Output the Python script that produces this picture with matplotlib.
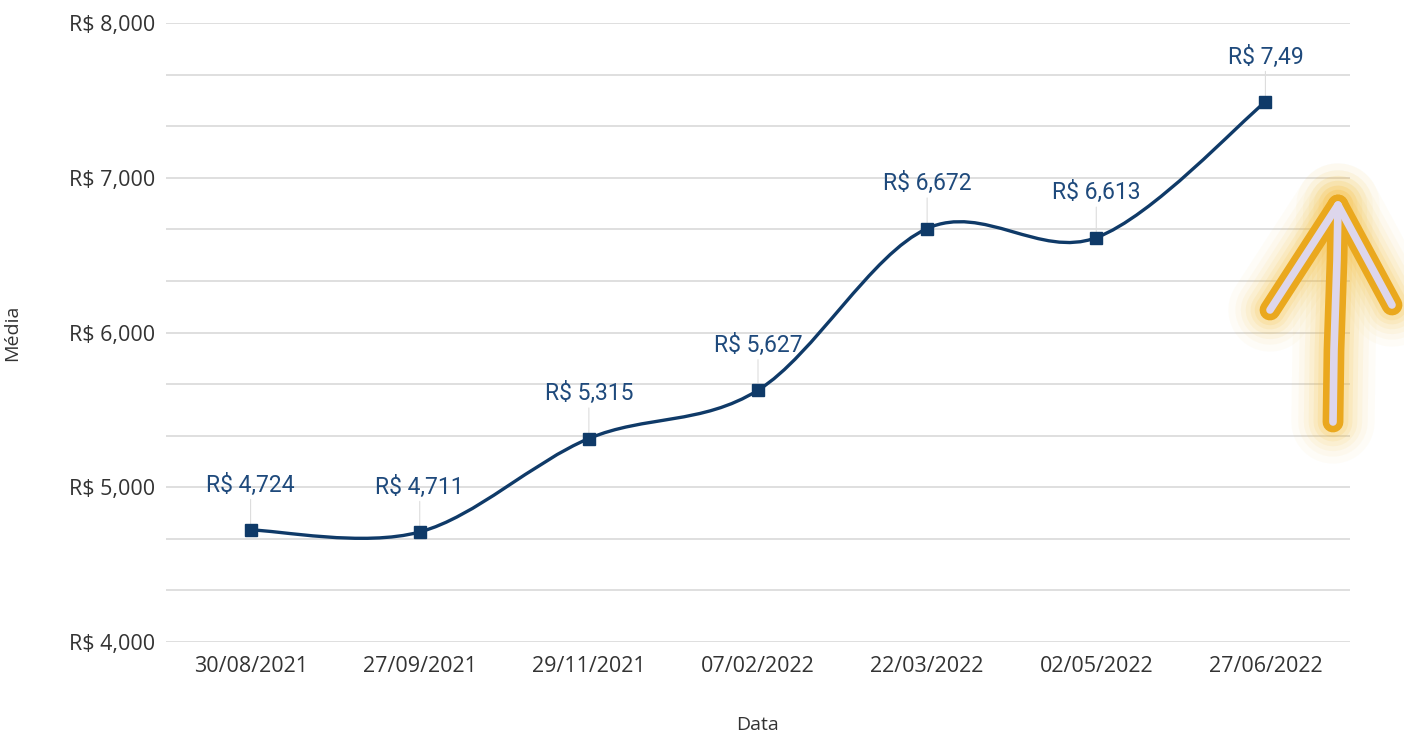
import matplotlib
matplotlib.use("Agg")
import matplotlib.pyplot as plt
from matplotlib.path import Path
from matplotlib.patches import PathPatch
from matplotlib.ticker import MultipleLocator, FuncFormatter
import numpy as np

datas = ["30/08/2021", "27/09/2021", "29/11/2021", "07/02/2022",
         "22/03/2022", "02/05/2022", "27/06/2022"]
medias = [4724, 4711, 5315, 5627, 6672, 6613, 7490]
rotulos = ["R$ 4,724", "R$ 4,711", "R$ 5,315", "R$ 5,627",
           "R$ 6,672", "R$ 6,613", "R$ 7,49"]

azul = "#0f3a68"
fig = plt.figure(figsize=(14.04, 7.36), dpi=100)
ax = fig.add_axes([166/1404, 1-642/736, 1184/1404, 619/736])

x = np.arange(len(datas))
y = np.array(medias, dtype=float)

# smooth curve (catmull-rom as bezier segments)
verts = [(x[0], y[0])]
codes = [Path.MOVETO]
n = len(x)
for i in range(n - 1):
    p0 = np.array([x[max(i-1, 0)], y[max(i-1, 0)]])
    p1 = np.array([x[i], y[i]])
    p2 = np.array([x[i+1], y[i+1]])
    p3 = np.array([x[min(i+2, n-1)], y[min(i+2, n-1)]])
    c1 = p1 + (p2 - p0) / 6
    c2 = p2 - (p3 - p1) / 6
    verts += [tuple(c1), tuple(c2), tuple(p2)]
    codes += [Path.CURVE4] * 3
ax.add_patch(PathPatch(Path(verts, codes), facecolor="none", edgecolor=azul,
                       lw=2.4, zorder=3, capstyle="round"))
ax.plot(x, y, ls="none", marker="s", ms=8, color=azul, zorder=4)

for xi, yi, t in zip(x, y, rotulos):
    ax.annotate(t, (xi, yi), xytext=(0, 24), textcoords="offset points",
                ha="center", va="bottom", fontsize=16.5, color="#1f4a7c",
                family="Roboto",
                arrowprops=dict(arrowstyle="-", color="#dddddd", lw=0.8,
                                shrinkA=0, shrinkB=4))

ax.set_xlim(-0.5, 6.5)
ax.set_ylim(4000, 8000)
ax.set_xticks(x)
ax.set_xticklabels(datas)
ax.yaxis.set_major_locator(MultipleLocator(1000))
ax.yaxis.set_minor_locator(MultipleLocator(1000/3))
ax.yaxis.set_major_formatter(FuncFormatter(lambda v, p: "R$ {:,.0f}".format(v)))
ax.grid(axis="y", which="both", color="#d9d9d9", lw=1.2)
ax.set_axisbelow(True)
for s in ax.spines.values():
    s.set_visible(False)
ax.tick_params(axis="both", which="both", length=0, labelsize=15.5,
               labelcolor="#333333")
ax.tick_params(axis="y", pad=8)
ax.tick_params(axis="x", pad=10)
for lb in ax.get_xticklabels() + ax.get_yticklabels():
    lb.set_family("Open Sans")
ax.set_xlabel("Data", fontsize=14, color="#333333", family="Open Sans", labelpad=28)
ax.set_ylabel("Média", fontsize=14, color="#333333", family="Open Sans", labelpad=34)

# glowing arrow overlay
ov = fig.add_axes([0, 0, 1, 1], facecolor="none")
ov.set_xlim(0, 1404)
ov.set_ylim(736, 0)
ov.axis("off")
shaft = ([1333, 1334, 1337, 1338], [422, 350, 260, 205])
head = ([1270, 1338, 1392], [310, 205, 305])
for w, a in [(60, 0.04), (50, 0.05), (42, 0.07), (35, 0.09), (28, 0.12), (22, 0.16)]:
    for px, py in (shaft, head):
        ov.plot(px, py, color="#f7c040", lw=w, alpha=a,
                solid_capstyle="round", solid_joinstyle="round")
for px, py in (shaft, head):
    ov.plot(px, py, color="#eaa81e", lw=15, solid_capstyle="round",
            solid_joinstyle="round")
for px, py in (shaft, head):
    ov.plot(px, py, color="#ddd6ec", lw=5.5, solid_capstyle="round",
            solid_joinstyle="round")

fig.savefig("out.png", dpi=100)
